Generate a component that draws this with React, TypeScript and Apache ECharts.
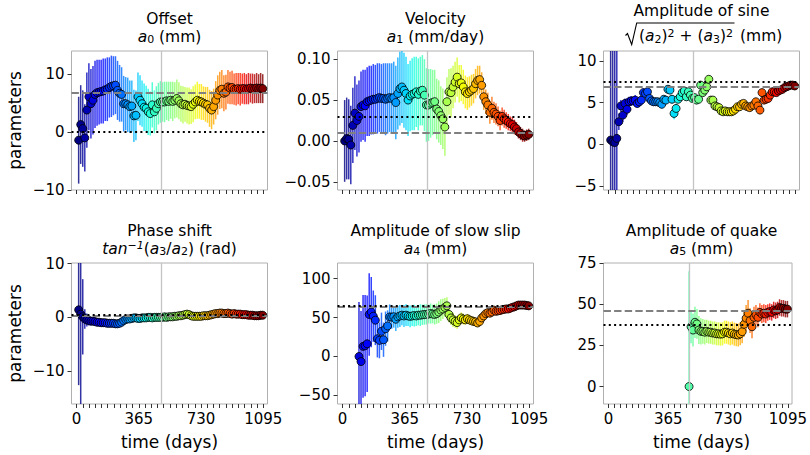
import React, { useEffect, useRef } from 'react';
import * as echarts from 'echarts';

const FONT = 'DejaVu Sans';

const DAYS = [
  12, 24, 36, 48, 60, 72, 84, 96, 108, 120,
  132, 144, 156, 168, 180, 192, 204, 216, 228, 240,
  252, 264, 276, 288, 300, 312, 324, 336, 348, 360,
  372, 384, 396, 408, 420, 432, 444, 456, 468, 480,
  492, 504, 516, 528, 540, 552, 564, 576, 588, 600,
  612, 624, 636, 648, 660, 672, 684, 696, 708, 720,
  732, 744, 756, 768, 780, 792, 804, 816, 828, 840,
  852, 864, 876, 888, 900, 912, 924, 936, 948, 960,
  972, 984, 996, 1008, 1020, 1032, 1044, 1056, 1068, 1080, 1092,
];

const OFFSET = [
  -1.4, 1.3, 0.6, -1.0, 3.8, 6.1, 4.9, 5.5, 6.5, 6.8,
  6.9, 7.0, 7.1, 7.3, 7.4, 7.7, 7.9, 8.0, 8.1, 7.2,
  6.7, 6.5, 4.9, 4.9, 4.7, 4.4, 4.5, 2.8, 2.9, 6.1,
  5.5, 4.9, 4.3, 4.1, 3.5, 3.2, 4.7, 3.5, 4.1, 4.9,
  5.2, 5.2, 5.2, 5.4, 5.3, 5.5, 5.3, 5.5, 5.8, 5.4,
  4.9, 4.7, 4.8, 4.6, 4.5, 4.4, 4.8, 5.2, 5.5, 5.3,
  5.2, 5.0, 4.8, 4.7, 4.1, 3.8, 4.4, 5.5, 6.4, 7.2,
  7.4, 6.7, 6.9, 7.8, 7.6, 7.7, 7.4, 7.4, 7.5, 7.4,
  7.5, 7.5, 7.4, 7.5, 7.6, 7.5, 7.5, 7.6, 7.5, 7.6, 7.5,
];
const OFFSET_ERR = [
  7.5, 6.8, 6.6, 5.8, 6.5, 5.8, 6.0, 5.9, 5.8, 5.7,
  5.6, 5.5, 5.6, 5.4, 5.5, 5.2, 5.3, 5.1, 5.0, 5.1,
  4.9, 4.7, 4.8, 4.6, 4.7, 4.5, 4.4, 4.5, 4.3, 4.2,
  4.3, 4.0, 4.1, 3.9, 4.0, 3.8, 3.9, 3.7, 3.8, 3.6,
  3.6, 3.4, 3.5, 3.3, 3.4, 3.2, 3.4, 3.1, 3.3, 3.2,
  3.1, 3.2, 3.0, 3.1, 3.2, 3.0, 3.1, 3.0, 3.2, 3.0,
  3.1, 2.9, 3.0, 3.1, 3.2, 3.3, 3.1, 3.3, 3.4, 3.2,
  3.3, 3.1, 3.0, 2.9, 2.8, 2.9, 2.7, 2.8, 2.7, 2.8,
  2.6, 2.7, 2.6, 2.7, 2.5, 2.6, 2.5, 2.6, 2.5, 2.6, 2.5,
];

const VELOCITY = [
  0.000, 0.003, 0.002, -0.005, 0.019, 0.034, 0.025, 0.030, 0.042, 0.044,
  0.043, 0.048, 0.049, 0.050, 0.051, 0.051, 0.052, 0.053, 0.052, 0.052,
  0.051, 0.052, 0.053, 0.052, 0.053, 0.047, 0.058, 0.064, 0.066, 0.062,
  0.058, 0.050, 0.055, 0.057, 0.058, 0.060, 0.057, 0.061, 0.062, 0.056,
  0.044, 0.044, 0.046, 0.047, 0.048, 0.039, 0.036, 0.031, 0.027, 0.017,
  0.048, 0.060, 0.059, 0.066, 0.072, 0.078, 0.070, 0.071, 0.066, 0.060,
  0.058, 0.060, 0.062, 0.064, 0.070, 0.074, 0.075, 0.068, 0.054, 0.048,
  0.044, 0.035, 0.040, 0.035, 0.033, 0.030, 0.025, 0.030, 0.027, 0.025,
  0.023, 0.021, 0.020, 0.017, 0.015, 0.011, 0.009, 0.007, 0.006, 0.007, 0.008,
];
const VELOCITY_ERR = [
  0.050, 0.050, 0.049, 0.048, 0.046, 0.045, 0.044, 0.044, 0.043, 0.043,
  0.044, 0.042, 0.043, 0.042, 0.043, 0.042, 0.043, 0.042, 0.042, 0.043,
  0.044, 0.043, 0.042, 0.043, 0.044, 0.045, 0.044, 0.045, 0.044, 0.046,
  0.045, 0.044, 0.043, 0.044, 0.045, 0.043, 0.044, 0.042, 0.043, 0.044,
  0.045, 0.044, 0.042, 0.040, 0.039, 0.037, 0.038, 0.036, 0.037, 0.035,
  0.030, 0.028, 0.030, 0.026, 0.025, 0.024, 0.023, 0.022, 0.021, 0.020,
  0.020, 0.019, 0.019, 0.018, 0.018, 0.018, 0.017, 0.016, 0.016, 0.015,
  0.015, 0.014, 0.014, 0.013, 0.013, 0.012, 0.012, 0.011, 0.011, 0.010,
  0.010, 0.009, 0.009, 0.009, 0.008, 0.008, 0.008, 0.008, 0.007, 0.007, 0.007,
];

const SINE_AMP = [
  0.5, 0.3, 0.2, 0.7, 2.7, 4.6, 3.5, 4.9, 4.2, 5.1,
  5.2, 5.2, 5.3, 4.9, 5.1, 5.3, 6.2, 6.1, 6.3, 5.5,
  5.2, 5.1, 5.1, 5.1, 5.0, 4.8, 5.4, 5.3, 6.6, 6.5,
  5.4, 3.7, 4.3, 5.4, 5.7, 6.2, 6.4, 5.7, 6.3, 5.9,
  5.5, 5.6, 5.3, 5.4, 7.1, 6.2, 6.5, 6.9, 7.8, 5.3,
  5.3, 4.6, 4.5, 4.4, 4.0, 3.9, 4.0, 3.9, 3.9, 3.9,
  4.0, 4.2, 4.5, 4.5, 4.8, 4.9, 4.6, 4.5, 4.4, 4.6,
  4.7, 5.1, 4.6, 4.1, 6.2, 5.3, 5.4, 5.5, 5.9, 6.3,
  6.3, 6.2, 6.4, 6.5, 6.6, 6.8, 6.9, 7.0, 7.1, 7.1, 7.0,
];
const SINE_AMP_ERR = [
  60, 60, 60, 60, 1.0, 0.7, 0.8, 0.6, 0.7, 0.6,
  0.6, 0.5, 0.6, 0.5, 0.6, 0.5, 0.5, 0.5, 0.4, 0.5,
  0.5, 0.5, 0.5, 0.4, 0.5, 0.5, 0.4, 0.4, 0.5, 0.4,
  0.5, 0.7, 0.6, 0.4, 0.4, 0.4, 0.4, 0.3, 0.3, 0.3,
  0.3, 0.3, 0.2, 0.2, 0.2, 0.2, 0.2, 0.2, 0.2, 0.2,
  0.2, 0.2, 0.2, 0.2, 0.2, 0.2, 0.2, 0.2, 0.2, 0.2,
  0.2, 0.2, 0.2, 0.2, 0.2, 0.2, 0.2, 0.2, 0.2, 0.2,
  0.2, 0.2, 0.2, 0.2, 0.2, 0.2, 0.2, 0.2, 0.2, 0.2,
  0.2, 0.2, 0.2, 0.2, 0.2, 0.2, 0.2, 0.2, 0.2, 0.2, 0.2,
];

const PHASE = [
  1.4, 0.6, 0.1, -0.3, -0.5, -0.6, -0.7, -0.7, -0.8, -0.9,
  -0.9, -1.0, -1.0, -1.0, -1.1, -1.1, -1.1, -1.1, -1.2, -1.2,
  -1.1, -0.9, -0.6, -0.4, -0.3, -0.3, -0.2, -0.1, -0.1, -0.2,
  -0.2, -0.1, -0.1, -0.1, 0.0, 0.0, -0.1, 0.0, 0.0, 0.0,
  0.0, 0.0, 0.1, 0.0, 0.1, 0.1, 0.1, 0.2, 0.2, 0.3,
  0.3, 0.4, 0.5, 0.6, 0.5, 0.3, 0.2, 0.2, 0.2, 0.2,
  0.2, 0.3, 0.3, 0.3, 0.4, 0.5, 0.6, 0.7, 0.7, 0.8,
  0.8, 0.7, 0.7, 0.8, 0.7, 0.6, 0.7, 0.6, 0.6, 0.6,
  0.5, 0.5, 0.5, 0.4, 0.4, 0.4, 0.3, 0.3, 0.3, 0.4, 0.4,
];
const PHASE_ERR = [
  14, 22, 7, 1.8, 1.2, 0.9, 0.8, 0.7, 0.7, 0.6,
  0.6, 0.6, 0.5, 0.5, 0.5, 0.5, 0.5, 0.5, 0.5, 0.4,
  0.4, 0.4, 0.4, 0.4, 0.4, 0.3, 0.3, 0.3, 0.3, 0.3,
  0.3, 0.3, 0.3, 0.3, 0.3, 0.3, 0.3, 0.3, 0.3, 0.3,
  0.3, 0.3, 0.3, 0.3, 0.3, 0.3, 0.3, 0.3, 0.3, 0.3,
  0.3, 0.3, 0.3, 0.3, 0.3, 0.3, 0.3, 0.3, 0.3, 0.3,
  0.3, 0.3, 0.3, 0.3, 0.3, 0.3, 0.3, 0.3, 0.3, 0.3,
  0.3, 0.3, 0.3, 0.3, 0.3, 0.3, 0.3, 0.3, 0.3, 0.3,
  0.3, 0.3, 0.3, 0.3, 0.3, 0.3, 0.3, 0.3, 0.3, 0.3, 0.3,
];

const SLOW_SLIP = [
  null, null, null, null, null, null, null, 0, -6.5, 13,
  13.8, 16.3, 54, 57, 51.7, 46.6, 22.8, 20.7, 32.3, 21.5,
  35.7, 39.2, 50.8, 50.5, 51, 47.8, 50.8, 52, 53, 52,
  53, 52, 51.5, 52, 52.5, 52, 53, 53, 53.5, 53.8,
  54, 54.5, 55.1, 54.5, 54, 55, 57, 59.5, 61, 63,
  65, 54, 49.5, 47, 45, 43.5, 47, 49.5, 48, 47,
  48.5, 47, 46, 45, 44.4, 43, 45, 49.5, 52, 55,
  56.3, 55.6, 57, 59.5, 58, 58.5, 59, 60, 60.5, 61,
  61, 62, 63, 63.8, 65, 66, 66, 66, 66, 65.5, 65,
];
const SLOW_SLIP_ERR = [
  null, null, null, null, null, null, null, 70, 65, 66,
  65, 62, 53, 45, 33, 32, 24, 23, 24, 22,
  22, 20, 16, 15, 14, 15, 14, 14, 13, 14,
  14, 13, 14, 13, 14, 13, 13, 14, 13, 13,
  13, 12, 13, 12, 13, 13, 14, 14, 13, 12,
  11, 10, 9, 9, 8, 8, 7, 7, 7, 6,
  6, 6, 5.5, 5.5, 5, 5, 5, 5, 5, 5,
  4.5, 4.5, 4.5, 4, 4, 4, 4, 4, 4, 4,
  3.5, 3.5, 3.5, 3.5, 3.5, 3.5, 3.5, 3.5, 3.5, 3.5, 3.5,
];

const QUAKE = [
  null, null, null, null, null, null, null, null, null, null,
  null, null, null, null, null, null, null, null, null, null,
  null, null, null, null, null, null, null, null, null, null,
  null, null, null, null, null, null, null, null, null, null,
  0, 36.3, 34.3, 39, 38, 34.3, 33.5, 33.5, 33, 33.5,
  33, 33, 32.5, 32.5, 32, 32, 31.8, 32, 33, 33,
  32.5, 32, 32.5, 31.8, 31.5, 31.3, 32, 33.3, 37.8, 41.5,
  44.5, 40, 36.3, 42, 43.5, 42, 45, 44, 44.5, 44,
  45, 45.5, 45, 46.5, 46, 46.5, 48, 47.5, 47.5, 47, 47,
];
const QUAKE_ERR = [
  null, null, null, null, null, null, null, null, null, null,
  null, null, null, null, null, null, null, null, null, null,
  null, null, null, null, null, null, null, null, null, null,
  null, null, null, null, null, null, null, null, null, null,
  70, 10, 10, 9.5, 9, 8.5, 8, 7.5, 7.5, 7,
  7, 7, 7, 7, 7, 7, 7, 7, 7, 7,
  7, 7, 7, 7, 7, 7, 7, 7, 7.5, 8,
  8, 7.5, 7, 6.5, 6, 6, 5.5, 5.5, 5.5, 5.5,
  5, 5, 5, 5, 5, 5, 5, 5, 5, 5, 5,
];

const QUAKE_DAY = 496;
const DASHED_REF = [6.8, 0.009, 6.95, 0.3, 63.5, 46.3];
const DOTTED_REF = [0, 0.0275, 7.45, 0.45, 65, 37.6];

const Y_MIN = [-10, -0.06, -5.5, -16.1, -61, -10.6];
const Y_MAX = [14, 0.11, 11.2, 10.1, 120, 75];
const Y_TICKS = [
  [-10, 0, 10],
  [-0.05, 0, 0.05, 0.1],
  [-5, 0, 5, 10],
  [-10, 0, 10],
  [-50, 0, 50, 100],
  [0, 25, 50, 75],
];
const X_LABELS = [0, 365, 730, 1095];
const X_TICKS = [
  0, 36.5, 73, 109.5, 146, 182.5, 219, 255.5, 292, 328.5,
  365, 401.5, 438, 474.5, 511, 547.5, 584, 620.5, 657, 693.5,
  730, 766.5, 803, 839.5, 876, 912.5, 949, 985.5, 1022, 1058.5, 1095,
];

const TITLES = ['Offset', 'Velocity', 'Amplitude of sine', 'Phase shift', 'Amplitude of slow slip', 'Amplitude of quake'];

// layout
const GRID_LEFT = [71.5, 337.5, 603.5, 71.5, 337.5, 603.5];
const GRID_TOP = [51, 51, 51, 263, 263, 263];
const GRID_W = 196;
const GRID_H = [139, 139, 139, 141, 141, 141];

const JET_R = [[0, 0], [0.35, 0], [0.66, 1], [0.89, 1], [1, 0.5]];
const JET_G = [[0, 0], [0.125, 0], [0.375, 1], [0.64, 1], [0.91, 0], [1, 0]];
const JET_B = [[0, 0.5], [0.11, 1], [0.34, 1], [0.65, 0], [1, 0]];

function seg(s: number[][], x: number) {
  for (let i = 1; i < s.length; i++) {
    if (x <= s[i][0]) {
      const f = (x - s[i - 1][0]) / (s[i][0] - s[i - 1][0]);
      return s[i - 1][1] + f * (s[i][1] - s[i - 1][1]);
    }
  }
  return s[s.length - 1][1];
}
function jet(day: number, alpha = 1) {
  const t = Math.max(0, Math.min(1, (day - DAYS[0]) / (DAYS[DAYS.length - 1] - DAYS[0])));
  const r = Math.round(255 * seg(JET_R, t));
  const g = Math.round(255 * seg(JET_G, t));
  const b = Math.round(255 * seg(JET_B, t));
  return `rgba(${r},${g},${b},${alpha})`;
}

const VALUES = [OFFSET, VELOCITY, SINE_AMP, PHASE, SLOW_SLIP, QUAKE];
const ERRORS = [OFFSET_ERR, VELOCITY_ERR, SINE_AMP_ERR, PHASE_ERR, SLOW_SLIP_ERR, QUAKE_ERR];

const fmt = (dec: number) => (v: number) => {
  const s = dec ? Number(v).toFixed(dec) : String(Math.round(v));
  return s.replace('-', '\u2212');
};

const RICH: any = {
  n: { fontSize: 15.5, fontFamily: FONT, lineHeight: 17, color: '#000' },
  i: { fontSize: 15.5, fontFamily: FONT, fontStyle: 'italic', lineHeight: 17, color: '#000' },
  sub: { fontSize: 11, fontFamily: FONT, lineHeight: 9, verticalAlign: 'bottom', color: '#000' },
  sup: { fontSize: 11, fontFamily: FONT, lineHeight: 9, verticalAlign: 'top', color: '#000' },
  isup: { fontSize: 11, fontFamily: FONT, fontStyle: 'italic', lineHeight: 9, verticalAlign: 'top', color: '#000' },
};

function buildOption() {
  const grid: any[] = [];
  const xAxis: any[] = [];
  const yAxis: any[] = [];
  const series: any[] = [];
  const graphic: any[] = [];

  for (let k = 0; k < 6; k++) {
    grid.push({
      left: GRID_LEFT[k], top: GRID_TOP[k], width: GRID_W, height: GRID_H[k],
      show: true, borderColor: '#b0b0b0', borderWidth: 1, backgroundColor: 'transparent',
    });
    const bottom = k >= 3;
    xAxis.push({
      type: 'value', gridIndex: k, min: -30, max: 1120,
      axisLine: { show: false, onZero: false },
      splitLine: { show: false },
      axisTick: { show: true, customValues: X_TICKS, length: 4, lineStyle: { color: '#333', width: 1 } },
      axisLabel: {
        show: bottom, customValues: X_LABELS, fontSize: 15, fontFamily: FONT, color: '#000', margin: 7,
        formatter: (v: number) => String(Math.round(v)),
      },
    });
    const dec = k === 1 ? 2 : 0;
    yAxis.push({
      type: 'value', gridIndex: k, min: Y_MIN[k], max: Y_MAX[k],
      axisLine: { show: false, onZero: false },
      splitLine: { show: false },
      axisTick: { show: true, customValues: Y_TICKS[k], length: 4, lineStyle: { color: '#333', width: 1 } },
      axisLabel: {
        show: true, customValues: Y_TICKS[k], fontSize: 15, fontFamily: FONT, color: '#000', margin: 7,
        formatter: fmt(dec),
      },
    });

    const vals = VALUES[k];
    const errs = ERRORS[k];
    const barData: number[][] = [];
    const ptData: number[][] = [];
    for (let i = 0; i < DAYS.length; i++) {
      const v = vals[i];
      const e = errs[i];
      if (v === null || v === undefined) continue;
      barData.push([DAYS[i], v - (e as number), v + (e as number)]);
      ptData.push([DAYS[i], v]);
    }

    series.push({
      type: 'custom', xAxisIndex: k, yAxisIndex: k, clip: true, z: 2, silent: true,
      data: barData,
      renderItem: (params: any, api: any) => {
        const d = api.value(0);
        const p1 = api.coord([d, api.value(1)]);
        const p2 = api.coord([d, api.value(2)]);
        return {
          type: 'line',
          shape: { x1: p1[0], y1: p1[1], x2: p2[0], y2: p2[1] },
          style: { stroke: jet(d, 0.8), lineWidth: 1.5 },
        };
      },
    });

    series.push({
      type: 'scatter', xAxisIndex: k, yAxisIndex: k, z: 3, silent: true, data: [],
      markLine: {
        silent: true, symbol: 'none', animation: false, label: { show: false },
        data: [
          { xAxis: QUAKE_DAY, lineStyle: { color: '#c4c4c4', width: 1.3, type: 'solid' } },
          { yAxis: DASHED_REF[k], lineStyle: { color: '#808080', width: 2, type: [7.4, 3.2] } },
          { yAxis: DOTTED_REF[k], lineStyle: { color: '#000', width: 2, type: [2, 3.3] } },
        ],
      },
    });

    series.push({
      type: 'scatter', xAxisIndex: k, yAxisIndex: k, z: 4, silent: true,
      symbol: 'circle', symbolSize: 8,
      data: ptData,
      itemStyle: {
        color: (p: any) => jet(p.value[0], 1),
        borderColor: 'rgba(0,0,0,0.9)', borderWidth: 0.9, opacity: 1,
      },
    });

    // first title line
    const cx = GRID_LEFT[k] + GRID_W / 2;
    const top = GRID_TOP[k];
    graphic.push({
      type: 'text', x: cx, y: k === 2 ? 11 : top - 32,
      style: {
        text: TITLES[k], fontSize: 15.5, fontFamily: FONT, fill: '#000',
        align: 'center', verticalAlign: 'middle', lineHeight: 14,
      },
    });
  }

  const sub2 = [
    '{i|a}{sub|0}{n| (mm)}',
    '{i|a}{sub|1}{n| (mm/day)}',
    '',
    '{i|tan}{isup|\u22121}{n|(}{i|a}{sub|3}{n|/}{i|a}{sub|2}{n|) (rad)}',
    '{i|a}{sub|4}{n| (mm)}',
    '{i|a}{sub|5}{n| (mm)}',
  ];
  for (let k = 0; k < 6; k++) {
    if (k === 2) continue;
    graphic.push({
      type: 'text', x: GRID_LEFT[k] + GRID_W / 2, y: GRID_TOP[k] - 14.5,
      style: { text: sub2[k], rich: RICH, align: 'center', verticalAlign: 'middle', fontFamily: FONT, fontSize: 15.5 },
    });
  }
  // sqrt title line for panel 3
  graphic.push({
    type: 'polyline',
    shape: { points: [[625.5, 35.5], [627.5, 33.5], [631.7, 44.5], [636.7, 23], [734.5, 23]] },
    style: { stroke: '#000', lineWidth: 1.1, fill: 'none' },
  });
  graphic.push({
    type: 'text', x: 639, y: 36,
    style: {
      text: '{n|(}{i|a}{sub|2}{n|)}{sup|2}{n| + (}{i|a}{sub|3}{n|)}{sup|2}',
      rich: RICH, align: 'left', verticalAlign: 'middle', fontFamily: FONT, fontSize: 15.5,
    },
  });
  graphic.push({
    type: 'text', x: 740, y: 36,
    style: { text: '(mm)', fontSize: 15.5, fontFamily: FONT, fill: '#000', align: 'left', verticalAlign: 'middle' },
  });

  // axis labels
  for (let r = 0; r < 2; r++) {
    graphic.push({
      type: 'text', x: 15, y: GRID_TOP[r * 3] + GRID_H[r * 3] / 2, rotation: Math.PI / 2,
      style: { text: 'parameters', fontSize: 17, fontFamily: FONT, fill: '#000', align: 'center', verticalAlign: 'middle' },
    });
  }
  for (let k = 3; k < 6; k++) {
    graphic.push({
      type: 'text', x: GRID_LEFT[k] + GRID_W / 2, y: 441.5,
      style: { text: 'time (days)', fontSize: 17, fontFamily: FONT, fill: '#000', align: 'center', verticalAlign: 'middle' },
    });
  }

  return {
    animation: false,
    backgroundColor: '#fff',
    textStyle: { fontFamily: FONT },
    grid, xAxis, yAxis, series, graphic,
  };
}

export default function App() {
  const ref = useRef<HTMLDivElement>(null);
  useEffect(() => {
    if (!ref.current) return;
    const chart = echarts.init(ref.current, null, { renderer: 'svg' });
    chart.setOption(buildOption() as any);
    return () => chart.dispose();
  }, []);
  return (
    <div
      ref={ref}
      style={{ position: 'fixed', left: 0, top: 0, width: 810, height: 455, background: '#fff' }}
    />
  );
}
